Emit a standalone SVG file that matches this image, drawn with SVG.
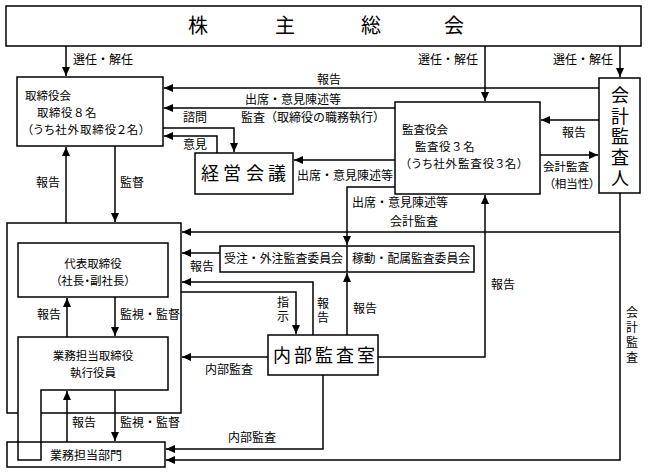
<svg xmlns="http://www.w3.org/2000/svg" width="648" height="475" viewBox="0 0 648 475">
<style>
text{font-family:"Noto Sans CJK JP","Noto Sans CJK SC",sans-serif;fill:#000;font-size:12px}
.box{fill:#fff;stroke:#000;stroke-width:1.5}
.c{fill:none;stroke:#000;stroke-width:1.5}
.m{text-anchor:middle}
.e{text-anchor:end}
.big{font-size:20px}
.b18{font-size:18px}
.s{font-size:11.5px}
.vt{writing-mode:vertical-rl}
.p{font-feature-settings:"palt"}
</style>
<defs>
<marker id="a" markerUnits="userSpaceOnUse" markerWidth="10" markerHeight="8" refX="9" refY="4" orient="auto">
<path d="M0,0 L9,4 L0,8 Z" fill="#000"/>
</marker>
</defs>
<rect width="648" height="475" fill="#fff"/>

<g id="shareholders">
<rect class="box" x="6" y="6" width="635" height="40"/>
<text class="big m" x="198 285 371 454" y="33">株主総会</text>
</g>

<g id="board">
<rect class="box" x="17" y="77" width="146" height="69"/>
<text class="s" x="25" y="100">取締役会</text>
<text class="s" x="37" y="117" letter-spacing="0.5">取締役８名</text>
<text class="s p" x="27" y="134" letter-spacing="0.9">（うち社外取締役２名）</text>
</g>

<g id="mgmt-meeting">
<rect class="box" x="195" y="153" width="98" height="41"/>
<text class="b18 m" x="210 232 255 277" y="180">経営会議</text>
</g>

<g id="auditors">
<rect class="box" x="395" y="102" width="145" height="92"/>
<text class="s" x="402" y="134">監査役会</text>
<text class="s" x="415" y="151" letter-spacing="0.5">監査役３名</text>
<text class="s p" x="405" y="168" letter-spacing="0.9">（うち社外監査役３名）</text>
</g>

<g id="accounting-auditor">
<rect class="box" x="599" y="78" width="41" height="115"/>
<text class="b18 vt" x="620" y="86" letter-spacing="2.8">会計監査人</text>
</g>

<g id="exec-group">
<rect class="box" x="7" y="223" width="174" height="190"/>
</g>

<g id="rep-director">
<rect class="box" x="18" y="243" width="150" height="54"/>
<text class="s m" x="93" y="268">代表取締役</text>
<text class="s m p" x="93" y="285">（社長・副社長）</text>
</g>

<g id="exec-directors">
<path class="box" d="M18,337 H168 V390 H41 V460 H18 Z"/>
<text class="s m" x="93" y="360">業務担当取締役</text>
<text class="s m" x="93" y="377">執行役員</text>
</g>

<g id="departments">
<rect class="box" x="7" y="442" width="158" height="25"/>
<path class="c" d="M18,442 V460 H41 V442"/>
<text x="50" y="460">業務担当部門</text>
</g>

<g id="committees">
<rect class="box" x="220" y="246" width="254" height="26"/>
<line class="c" x1="347" y1="246" x2="347" y2="272"/>
<text x="224" y="263" textLength="119" lengthAdjust="spacingAndGlyphs">受注・外注監査委員会</text>
<text x="352" y="263" textLength="118" lengthAdjust="spacingAndGlyphs">稼動・配属監査委員会</text>
</g>

<g id="internal-audit">
<rect class="box" x="268" y="335" width="110" height="40"/>
<text class="b18 m" x="282 303 324 345 366" y="362">内部監査室</text>
</g>

<g id="connectors">
<path class="c" d="M66,46 V76" marker-end="url(#a)"/>
<path class="c" d="M485,46 V101" marker-end="url(#a)"/>
<path class="c" d="M620,46 V77" marker-end="url(#a)"/>
<path class="c" d="M599,88 H164" marker-end="url(#a)"/>
<path class="c" d="M395,108 H164" marker-end="url(#a)"/>
<path class="c" d="M163,128 H234 V152" marker-end="url(#a)"/>
<path class="c" d="M217,153 V136 H164" marker-end="url(#a)"/>
<path class="c" d="M395,160 H294" marker-end="url(#a)"/>
<path class="c" d="M599,120 H541" marker-end="url(#a)"/>
<path class="c" d="M540,155 H598" marker-end="url(#a)"/>
<path class="c" d="M66,223 V147" marker-end="url(#a)"/>
<path class="c" d="M115,146 V222" marker-end="url(#a)"/>
<path class="c" d="M395,187 H347 V245" marker-end="url(#a)"/>
<path class="c" d="M620,193 V460 H166" marker-end="url(#a)"/>
<path class="c" d="M620,232 H182" marker-end="url(#a)"/>
<path class="c" d="M220,253 H182" marker-end="url(#a)"/>
<path class="c" d="M313,335 V282 H182" marker-end="url(#a)"/>
<path class="c" d="M181,292 H296 V334" marker-end="url(#a)"/>
<path class="c" d="M347,335 V273" marker-end="url(#a)"/>
<path class="c" d="M378,357 H485 V195" marker-end="url(#a)"/>
<path class="c" d="M268,357 H182" marker-end="url(#a)"/>
<path class="c" d="M323,375 V449 H166" marker-end="url(#a)"/>
<path class="c" d="M67,337 V298" marker-end="url(#a)"/>
<path class="c" d="M115,297 V336" marker-end="url(#a)"/>
<path class="c" d="M67,442 V391" marker-end="url(#a)"/>
<path class="c" d="M115,390 V441" marker-end="url(#a)"/>
</g>

<g id="labels">
<text x="73" y="64">選任・解任</text>
<text class="e" x="478" y="64">選任・解任</text>
<text class="e" x="613" y="64">選任・解任</text>
<text x="317" y="84">報告</text>
<text x="245" y="104">出席・意見陳述等</text>
<text x="241" y="122">監査（取締役の職務執行）</text>
<text x="183" y="122">諮問</text>
<text x="183" y="149">意見</text>
<text x="297" y="180">出席・意見陳述等</text>
<text x="562" y="137">報告</text>
<text class="s" x="543" y="171">会計監査</text>
<text class="s p" x="549" y="188">（相当性）</text>
<text x="36" y="187">報告</text>
<text x="120" y="187">監督</text>
<text x="352" y="207">出席・意見陳述等</text>
<text x="390" y="226">会計監査</text>
<text x="190" y="271">報告</text>
<text class="vt" x="283" y="296" font-size="11" letter-spacing="2">指示</text>
<text class="vt" x="323" y="297" font-size="11" letter-spacing="2.5">報告</text>
<text x="353" y="313">報告</text>
<text x="491" y="289">報告</text>
<text x="37" y="319">報告</text>
<text x="120" y="319">監視・監督</text>
<text x="205" y="374">内部監査</text>
<text x="72" y="427">報告</text>
<text x="120" y="427">監視・監督</text>
<text x="228" y="442">内部監査</text>
<text class="vt" x="632" y="306" font-size="10.5" letter-spacing="3">会計監査</text>
</g>
</svg>
